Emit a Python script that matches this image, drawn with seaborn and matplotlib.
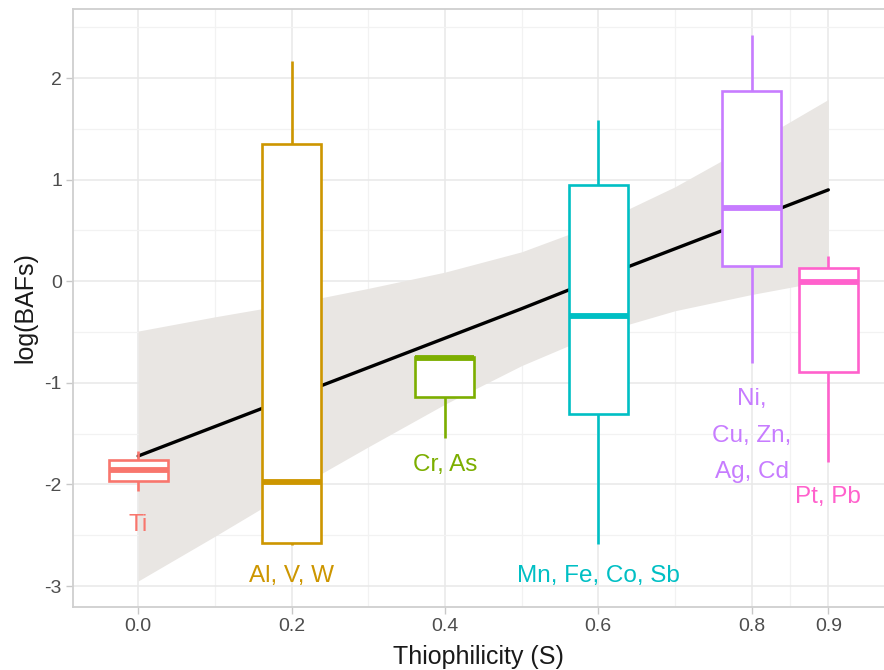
import numpy as np
import pandas as pd
import matplotlib
matplotlib.use("Agg")
import matplotlib.pyplot as plt
import seaborn as sns

# element groups and their thiophilicity
groups = ['Ti', 'Al, V, W', 'Cr, As', 'Mn, Fe, Co, Sb', 'Ni,\nCu, Zn,\nAg, Cd', 'Pt, Pb']
thiophilicity = [0.0, 0.2, 0.4, 0.6, 0.8, 0.9]
colors = ['#F8766D', '#CD9600', '#7CAE00', '#00BFC4', '#C77CFF', '#FF61CC']

# box summaries of log(BAFs)
whisker_low = [-2.06, -2.60, -1.54, -2.59, -0.80, -1.78]
q1 = [-1.97, -2.58, -1.14, -1.31, 0.15, -0.89]
median = [-1.86, -1.98, -0.76, -0.345, 0.72, -0.01]
q3 = [-1.76, 1.35, -0.745, 0.95, 1.87, 0.13]
whisker_high = [-1.67, 2.17, -0.745, 1.59, 2.42, 0.25]

# label positions (y) under each box
label_y = [-2.40, -2.90, -1.81, -2.90, -1.52, -2.12]

# linear fit and its confidence band
fit_x = [0.0, 0.1, 0.2, 0.3, 0.4, 0.5, 0.6, 0.7, 0.8, 0.9]
fit_y = [-1.72, -1.43, -1.14, -0.85, -0.56, -0.27, 0.03, 0.32, 0.61, 0.90]
band_hi = [-0.49, -0.35, -0.22, -0.07, 0.09, 0.29, 0.57, 0.93, 1.35, 1.79]
band_lo = [-2.95, -2.51, -2.06, -1.63, -1.21, -0.83, -0.51, -0.29, -0.13, 0.01]

sns.set_style('white')
plt.rcParams['font.family'] = ['Liberation Sans', 'DejaVu Sans']

fig = plt.figure(figsize=(8.84, 6.70), dpi=100)
ax = fig.add_axes([73 / 884, 1 - 607 / 670, 1 - 73 / 884, (607 - 9) / 670])

ax.fill_between(fit_x, band_lo, band_hi, color='#E9E6E3', lw=0, zorder=1)
sns.lineplot(x=fit_x, y=fit_y, color='black', lw=2.4, ax=ax, zorder=2)

for i, g in enumerate(groups):
    vals = [whisker_low[i], q1[i], median[i], q3[i], whisker_high[i]]
    sub = pd.DataFrame({'S': [thiophilicity[i]] * 5, 'logBAF': vals})
    sns.boxplot(data=sub, x='S', y='logBAF', native_scale=True, color='white',
                saturation=1, linecolor=colors[i], linewidth=1.9, width=0.077,
                showcaps=False, showfliers=False,
                medianprops={'linewidth': 4.2, 'solid_capstyle': 'butt'},
                zorder=3, ax=ax)
    ax.text(thiophilicity[i], label_y[i], g, color=colors[i], fontsize=17.5,
            ha='center', va='center', linespacing=1.85, zorder=4)

ax.set_xlim(-0.085, 0.9726)
ax.set_ylim(-3.206, 2.68)

ax.set_xticks(thiophilicity)
ax.set_xticklabels(['0.0', '0.2', '0.4', '0.6', '0.8', '0.9'])
ax.set_xticks([0.1, 0.3, 0.5, 0.7, 0.85], minor=True)
ax.set_yticks([-3, -2, -1, 0, 1, 2])
ax.set_yticklabels(['-3', '-2', '-1', '0', '1', '2'])
ax.set_yticks([-2.5, -1.5, -0.5, 0.5, 1.5, 2.5], minor=True)

ax.grid(which='major', color='#E8E8E8', lw=1.1, zorder=0)
ax.grid(which='minor', color='#F2F2F2', lw=0.9, zorder=0)
ax.set_axisbelow(True)

ax.tick_params(which='major', length=5, width=1.0, color='#C8C8C8',
               labelcolor='#4D4D4D', labelsize=14, pad=3, left=True, bottom=True)
ax.tick_params(which='minor', length=0)

for side in ['left', 'top', 'bottom']:
    ax.spines[side].set_color('#CFCFCF')
    ax.spines[side].set_linewidth(1.3)
ax.spines['right'].set_visible(False)

ax.set_xlabel('Thiophilicity (S)', fontsize=18, color='#1A1A1A', labelpad=7)
ax.set_ylabel('log(BAFs)', fontsize=18, color='#1A1A1A', labelpad=5)

plt.savefig('out.png', dpi=100)
